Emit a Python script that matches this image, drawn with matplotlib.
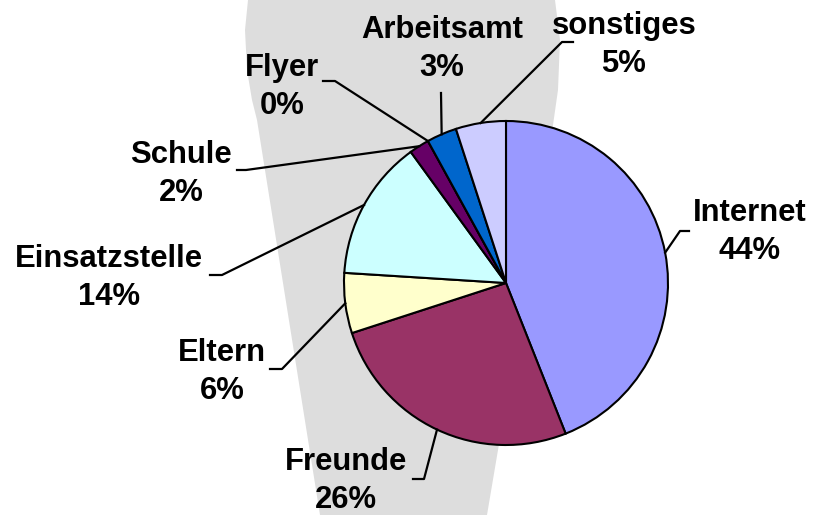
import matplotlib
matplotlib.use("Agg")
import matplotlib.pyplot as plt
import numpy as np
from matplotlib.patches import Polygon

W, H = 815, 515

categories = ["Internet", "Freunde", "Eltern", "Einsatzstelle", "Schule", "Flyer", "Arbeitsamt", "sonstiges"]
shares = [44, 26, 6, 14, 2, 0, 3, 5]
colors = ["#9999FF", "#993366", "#FFFFCC", "#CCFFFF", "#660066", "#FF8080", "#0066CC", "#CCCCFF"]

# layout in pixels from the top left corner
label_xy = {
    "Internet": (750, 232), "Freunde": (346, 481), "Eltern": (222, 372), "Einsatzstelle": (109, 278),
    "Schule": (181, 174), "Flyer": (282, 87), "Arbeitsamt": (442, 49), "sonstiges": (624, 45),
}
elbows = {
    "Internet": ((680, 231), 689), "Freunde": ((424, 479), 413), "Eltern": ((282, 369), 270),
    "Einsatzstelle": ((222, 275), 210), "Schule": ((246, 170), 237), "Flyer": ((335, 81), 323),
    "Arbeitsamt": ((441, 93), None), "sonstiges": ((562, 42), 573),
}
funnel = [(248, 0), (245, 30), (247, 70), (252, 100), (257, 120), (320, 515),
          (487, 515), (553, 125), (558, 90), (560, 40), (555, 0)]


def px(x, y):
    return x, H - y


fig = plt.figure(figsize=(W / 100, H / 100), dpi=100)
ax = fig.add_axes([0, 0, 1, 1])
ax.add_patch(Polygon([px(x, y) for x, y in funnel], closed=True, facecolor="#dddddd", edgecolor="none", zorder=0))

wedges, _ = ax.pie(shares, colors=colors, startangle=90, counterclock=False, center=px(506, 283), radius=162,
                   wedgeprops=dict(edgecolor="black", linewidth=1.5), frame=True)

for wedge, name, value in zip(wedges, categories, shares):
    theta = np.deg2rad((wedge.theta1 + wedge.theta2) / 2)
    cx, cy = wedge.center
    xs = [cx + wedge.r * np.cos(theta)]
    ys = [cy + wedge.r * np.sin(theta)]
    (ex, ey), end = elbows[name]
    xs.append(ex)
    ys.append(H - ey)
    if end is not None:
        xs.append(end)
        ys.append(H - ey)
    ax.plot(xs, ys, color="black", linewidth=1.6, zorder=3)
    lx, ly = label_xy[name]
    ax.text(lx, H - ly, f"{name}\n{value}%", ha="center", va="center", fontsize=22.3,
            fontweight="bold", family="Liberation Sans", linespacing=1.36, zorder=4)

ax.set_xlim(0, W)
ax.set_ylim(0, H)
ax.set_aspect("auto")
ax.axis("off")
fig.savefig("out.png", dpi=100)
